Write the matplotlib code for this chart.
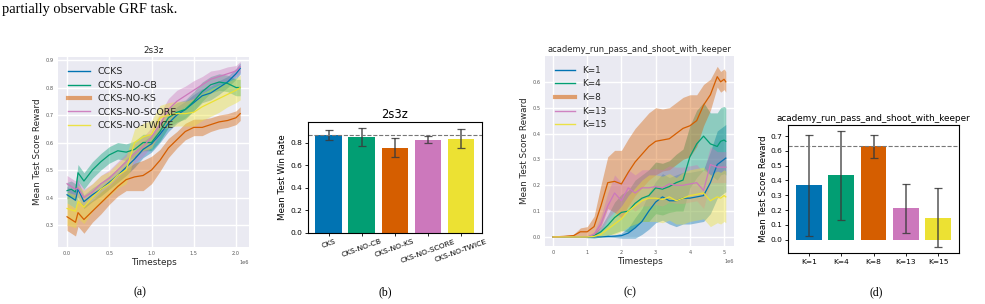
import matplotlib
matplotlib.use("Agg")
import matplotlib.pyplot as plt
import numpy as np
from matplotlib.lines import Line2D

# ---------------- data ----------------
# panel (a): 2s3z learning curves (timesteps in 1e6)
xa = [0.0, 0.05, 0.1, 0.13, 0.2, 0.3, 0.4, 0.5, 0.6, 0.7, 0.8, 0.9, 1.0,
      1.1, 1.2, 1.3, 1.4, 1.5, 1.6, 1.7, 1.8, 1.9, 2.0, 2.05]
a_labels = ["CCKS", "CCKS-NO-CB", "CCKS-NO-KS", "CCKS-NO-SCORE", "CCKS-NO-TWICE"]
ccks = [0.41, 0.40, 0.39, 0.43, 0.385, 0.41, 0.43, 0.455, 0.48, 0.51, 0.54, 0.575,
        0.595, 0.63, 0.67, 0.70, 0.72, 0.745, 0.77, 0.78, 0.80, 0.82, 0.85, 0.87]
no_cb = [0.425, 0.43, 0.42, 0.49, 0.46, 0.50, 0.53, 0.555, 0.57, 0.565, 0.575, 0.60,
         0.60, 0.64, 0.69, 0.71, 0.72, 0.75, 0.785, 0.81, 0.82, 0.815, 0.80, 0.80]
no_ks = [0.33, 0.32, 0.31, 0.345, 0.32, 0.35, 0.38, 0.41, 0.44, 0.465, 0.475, 0.48,
         0.50, 0.535, 0.58, 0.61, 0.64, 0.655, 0.655, 0.665, 0.675, 0.68, 0.69, 0.705]
no_score = [0.45, 0.44, 0.43, 0.435, 0.40, 0.42, 0.45, 0.47, 0.50, 0.53, 0.56, 0.585,
            0.62, 0.665, 0.72, 0.75, 0.77, 0.79, 0.81, 0.83, 0.84, 0.85, 0.86, 0.875]
no_twice = [0.36, 0.355, 0.35, 0.385, 0.365, 0.40, 0.43, 0.45, 0.48, 0.50, 0.60, 0.62,
            0.63, 0.69, 0.70, 0.705, 0.705, 0.71, 0.73, 0.745, 0.76, 0.775, 0.79, 0.80]
ccks_sd = [0.03, 0.03, 0.03, 0.03, 0.025, 0.025, 0.025, 0.025, 0.025, 0.03, 0.03, 0.03,
           0.03, 0.03, 0.03, 0.03, 0.03, 0.03, 0.025, 0.025, 0.025, 0.02, 0.02, 0.02]
no_cb_sd = [0.03, 0.03, 0.03, 0.03, 0.03, 0.03, 0.03, 0.03, 0.03, 0.03, 0.03, 0.03,
            0.03, 0.035, 0.035, 0.035, 0.035, 0.035, 0.035, 0.03, 0.03, 0.03, 0.03, 0.03]
no_ks_sd = [0.05, 0.05, 0.05, 0.05, 0.05, 0.04, 0.04, 0.035, 0.035, 0.04, 0.05, 0.055,
            0.05, 0.04, 0.035, 0.03, 0.03, 0.03, 0.03, 0.025, 0.025, 0.025, 0.025, 0.025]
no_score_sd = [0.03, 0.03, 0.03, 0.03, 0.03, 0.03, 0.03, 0.03, 0.03, 0.03, 0.035, 0.035,
               0.035, 0.04, 0.04, 0.04, 0.035, 0.035, 0.03, 0.03, 0.025, 0.025, 0.02, 0.02]
no_twice_sd = [0.06, 0.06, 0.06, 0.06, 0.06, 0.05, 0.05, 0.045, 0.045, 0.05, 0.05, 0.05,
               0.05, 0.045, 0.045, 0.045, 0.045, 0.05, 0.05, 0.05, 0.05, 0.045, 0.045, 0.045]

# panel (b): 2s3z win rate
b_labels = ["CKS", "CKS-NO-CB", "CKS-NO-KS", "CKS-NO-SCORE", "CKS-NO-TWICE"]
b_means = [0.870, 0.855, 0.757, 0.830, 0.838]
b_errs = [0.045, 0.080, 0.085, 0.035, 0.087]
b_ref = 0.870

# panel (c): academy_run_pass_and_shoot_with_keeper learning curves
xc = [0.0, 0.3, 0.6, 0.8, 1.0, 1.2, 1.4, 1.6, 1.8, 2.0, 2.2, 2.4, 2.6, 2.8, 3.0,
      3.2, 3.4, 3.6, 3.8, 4.0, 4.2, 4.4, 4.6, 4.8, 4.9, 5.0, 5.05]
c_labels = ["K=1", "K=4", "K=8", "K=13", "K=15"]
k1 = [0, 0, 0, 0, 0, 0, 0, 0.002, 0.003, 0.005, 0.015, 0.035, 0.06, 0.10, 0.135,
      0.155, 0.14, 0.14, 0.15, 0.15, 0.155, 0.16, 0.21, 0.28, 0.29, 0.30, 0.305]
k4 = [0, 0, 0, 0, 0, 0.005, 0.02, 0.045, 0.075, 0.095, 0.10, 0.13, 0.15, 0.16, 0.19,
      0.185, 0.195, 0.21, 0.22, 0.31, 0.36, 0.39, 0.36, 0.35, 0.37, 0.375, 0.37]
k8 = [0, 0.002, 0.005, 0.02, 0.02, 0.04, 0.12, 0.21, 0.215, 0.205, 0.25, 0.29, 0.32,
      0.35, 0.37, 0.375, 0.38, 0.40, 0.42, 0.43, 0.45, 0.51, 0.55, 0.62, 0.60, 0.61, 0.60]
k13 = [0, 0, 0, 0, 0, 0.01, 0.05, 0.12, 0.17, 0.14, 0.19, 0.17, 0.19, 0.19, 0.195,
       0.19, 0.205, 0.20, 0.20, 0.205, 0.21, 0.18, 0.28, 0.27, 0.27, 0.27, 0.27]
k15 = [0, 0, 0, 0, 0, 0.002, 0.01, 0.03, 0.05, 0.07, 0.10, 0.12, 0.14, 0.15, 0.15,
       0.145, 0.155, 0.14, 0.15, 0.16, 0.165, 0.17, 0.14, 0.155, 0.15, 0.16, 0.155]
k1_sd = [0, 0, 0, 0, 0, 0, 0, 0.003, 0.005, 0.01, 0.02, 0.04, 0.05, 0.07, 0.08, 0.09,
         0.09, 0.1, 0.1, 0.1, 0.1, 0.1, 0.12, 0.13, 0.13, 0.13, 0.13]
k4_sd = [0, 0, 0, 0, 0.003, 0.01, 0.02, 0.04, 0.06, 0.07, 0.08, 0.09, 0.09, 0.1, 0.1,
         0.1, 0.1, 0.11, 0.12, 0.12, 0.13, 0.13, 0.12, 0.13, 0.13, 0.13, 0.13]
k8_sd = [0, 0.003, 0.005, 0.015, 0.02, 0.04, 0.08, 0.1, 0.12, 0.13, 0.13, 0.13, 0.13,
         0.13, 0.13, 0.12, 0.12, 0.12, 0.12, 0.12, 0.1, 0.08, 0.06, 0.04, 0.04, 0.04, 0.04]
k13_sd = [0, 0, 0, 0, 0.003, 0.01, 0.03, 0.05, 0.07, 0.07, 0.07, 0.07, 0.07, 0.07, 0.07,
          0.07, 0.07, 0.07, 0.07, 0.07, 0.07, 0.07, 0.07, 0.06, 0.06, 0.06, 0.06]
k15_sd = [0, 0, 0, 0, 0, 0.002, 0.01, 0.02, 0.04, 0.05, 0.06, 0.07, 0.08, 0.09, 0.09,
          0.09, 0.09, 0.09, 0.1, 0.1, 0.1, 0.1, 0.1, 0.1, 0.1, 0.1, 0.1]

# panel (d): final reward per K
d_labels = ["K=1", "K=4", "K=8", "K=13", "K=15"]
d_means = [0.367, 0.435, 0.630, 0.211, 0.150]
d_errs = [0.342, 0.300, 0.075, 0.165, 0.200]
d_ref = 0.630

colors = ["#0173B2", "#029E73", "#D55E00", "#CC78BC", "#ECE133"]

# ---------------- figure ----------------
W, H = 985, 304
fig = plt.figure(figsize=(W / 100, H / 100), dpi=100)
fig.patch.set_facecolor("white")


def rect(l, t, r, b):
    return [l / W, 1 - b / H, (r - l) / W, (b - t) / H]


def dark_style(ax):
    ax.set_facecolor("#EAEAF2")
    for s in ax.spines.values():
        s.set_visible(False)
    ax.grid(True, color="white", lw=1.0)
    ax.set_axisbelow(True)
    ax.tick_params(length=0, labelsize=3.6, labelcolor="#555555", pad=3)
    ax.xaxis.get_offset_text().set_fontsize(3.6)
    ax.xaxis.get_offset_text().set_color("#555555")


def curve_panel(ax, x, series, sds, labels, title, fsl, legfs, lspace):
    xs = np.array(x) * 1e6
    for y, sd, c in zip(series, sds, colors):
        y = np.array(y)
        sd = np.array(sd)
        ax.fill_between(xs, y - sd, y + sd, color=c, alpha=0.4, lw=0)
        ax.plot(xs, y, color=c, lw=0.9)
    dark_style(ax)
    ax.set_title(title, fontsize=fsl, color="#262626", pad=3)
    ax.set_xlabel("Timesteps", fontsize=6.4, color="#262626", labelpad=1)
    ax.set_ylabel("Mean Test Score Reward", fontsize=6.3, color="#262626", labelpad=3)
    handles = []
    for i, c in enumerate(colors):
        if i == 2:
            handles.append(Line2D([], [], color=c, lw=3, alpha=0.55))
        elif i >= 3:
            handles.append(Line2D([], [], color=c, lw=1.0, alpha=0.9))
        else:
            handles.append(Line2D([], [], color=c, lw=1.0))
    leg = ax.legend(handles, labels, loc="upper left", frameon=False,
                    fontsize=legfs, handlelength=2.3, labelspacing=lspace,
                    handletextpad=0.8, borderaxespad=0.7)
    for t in leg.get_texts():
        t.set_color("#262626")


# (a)
axa = fig.add_axes(rect(58, 57, 249, 247))
curve_panel(axa, xa, [ccks, no_cb, no_ks, no_score, no_twice],
            [ccks_sd, no_cb_sd, no_ks_sd, no_score_sd, no_twice_sd],
            a_labels, "2s3z", 6.3, 6.8, 0.47)
axa.set_xlim(-0.107e6, 2.154e6)
axa.set_ylim(0.22, 0.911)
axa.set_xticks(np.array([0, 0.5, 1.0, 1.5, 2.0]) * 1e6)
axa.set_yticks([0.3, 0.4, 0.5, 0.6, 0.7, 0.8, 0.9])

# (c)
axc = fig.add_axes(rect(545, 56, 734, 246))
curve_panel(axc, xc, [k1, k4, k8, k13, k15],
            [k1_sd, k4_sd, k8_sd, k13_sd, k15_sd],
            c_labels, "academy_run_pass_and_shoot_with_keeper", 6.0, 6.4, 0.52)
axc.set_xlim(-0.234e6, 5.29e6)
axc.set_ylim(-0.035, 0.70)
axc.set_xticks(np.array([0, 1, 2, 3, 4, 5]) * 1e6)
axc.set_yticks([0.0, 0.1, 0.2, 0.3, 0.4, 0.5, 0.6])


def bar_panel(ax, labels, means, errs, ref, title, ylabel, rot):
    pos = np.arange(len(labels))
    ax.bar(pos, means, width=0.8, color=colors)
    ax.errorbar(pos, means, yerr=errs, fmt="none", ecolor="#3a3a3a",
                elinewidth=1.1, capsize=3, capthick=0.9, alpha=0.85)
    ax.axhline(ref, color="#777777", ls="--", lw=0.8)
    ax.set_xticks(pos)
    if rot:
        ax.set_xticklabels(labels, rotation=20, ha="center", fontsize=5.4)
    else:
        ax.set_xticklabels(labels, fontsize=5.4)
    ax.tick_params(axis="both", labelsize=5.4, length=2.5, width=0.6, pad=1.5)
    ax.set_title(title, pad=3)
    ax.set_ylabel(ylabel, fontsize=6.3, labelpad=2)
    for s in ax.spines.values():
        s.set_linewidth(0.8)


# (b)
axb = fig.add_axes(rect(307.5, 122.5, 482, 232.7))
bar_panel(axb, b_labels, b_means, b_errs, b_ref, "2s3z", "Mean Test Win Rate", True)
axb.title.set_fontsize(8.3)
axb.set_yticks([0.0, 0.2, 0.4, 0.6, 0.8])

# (d)
axd = fig.add_axes(rect(788, 125, 959, 253))
bar_panel(axd, d_labels, d_means, d_errs, d_ref,
          "academy_run_pass_and_shoot_with_keeper", "Mean Test Score Reward", False)
axd.title.set_fontsize(6.4)
axd.set_yticks([0.0, 0.1, 0.2, 0.3, 0.4, 0.5, 0.6, 0.7])

# surrounding paper text
fig.text(2 / W, 1 - 10 / H, "partially observable GRF task.", fontsize=10.4,
         family="Liberation Serif", va="center", ha="left")
for lab, xp in zip(["(a)", "(b)", "(c)", "(d)"], [140, 385, 630, 876]):
    fig.text(xp / W, 1 - 292 / H, lab, fontsize=8.5, family="Liberation Serif",
             ha="center", va="center")

fig.savefig("out.png", dpi=100, facecolor="white")
